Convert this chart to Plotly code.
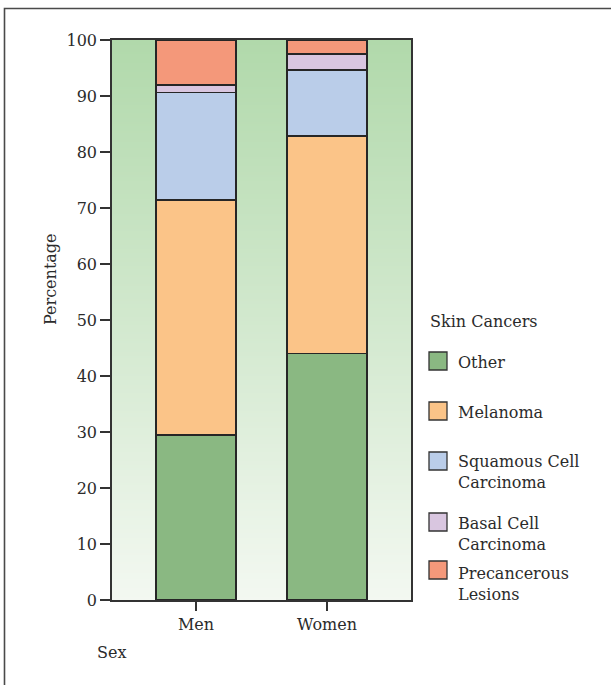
import base64, struct, zlib
import plotly.graph_objects as go

# ---------------- data ----------------
sexes = ["Men", "Women"]
cancer_types = ["Other", "Melanoma", "Squamous Cell<br>Carcinoma",
                "Basal Cell<br>Carcinoma", "Precancerous<br>Lesions"]
other = [29.5, 44.0]
melanoma = [41.9, 38.9]
squamous = [19.2, 11.7]
basal = [1.4, 2.9]
precancerous = [8.0, 2.5]
series_values = [other, melanoma, squamous, basal, precancerous]
y_ticks = list(range(0, 101, 10))

# ---------------- styles ----------------
colors = ["#8ab882", "#fbc488", "#bacde9", "#d9c6e0", "#f4987a"]
FONT = "DejaVu Serif"
TXT = "#2b2b2b"
W, H = 611, 685
L, R, T, B = 112, 200, 40, 85
PW, PH = W - L - R, H - T - B


def px_x(p):
    return (p - L) / PW


def px_y(p):
    return (H - B - p) / PH


def gradient_png(top, bottom, n=256):
    rows = []
    for i in range(n):
        t = i / (n - 1)
        rgb = [round(top[k] + (bottom[k] - top[k]) * t) for k in range(3)]
        rows.append(b"\x00" + bytes(rgb))
    raw = b"".join(rows)

    def chunk(tag, data):
        return (struct.pack(">I", len(data)) + tag + data +
                struct.pack(">I", zlib.crc32(tag + data) & 0xFFFFFFFF))

    png = b"\x89PNG\r\n\x1a\n"
    png += chunk(b"IHDR", struct.pack(">IIBBBBB", 1, n, 8, 2, 0, 0, 0))
    png += chunk(b"IDAT", zlib.compress(raw))
    png += chunk(b"IEND", b"")
    return "data:image/png;base64," + base64.b64encode(png).decode()


fig = go.Figure()
for name, vals, col in zip(cancer_types, series_values, colors):
    fig.add_trace(go.Bar(
        x=sexes, y=vals, name=name, width=0.61,
        marker=dict(color=col, line=dict(color="#262626", width=1.5)),
        showlegend=False,
    ))

# manual legend (title, swatches and labels)
annotations = [
    dict(text="Skin Cancers", x=px_x(428), y=px_y(321), xref="paper", yref="paper",
         xanchor="left", yanchor="middle", showarrow=False,
         font=dict(family=FONT, size=16, color=TXT)),
    dict(text="Sex", x=px_x(95), y=px_y(652), xref="paper", yref="paper",
         xanchor="left", yanchor="middle", showarrow=False,
         font=dict(family=FONT, size=16, color=TXT)),
    dict(text="Percentage", x=px_x(50), y=px_y(279), xref="paper", yref="paper",
         xanchor="center", yanchor="middle", showarrow=False, textangle=-90,
         font=dict(family=FONT, size=16, color=TXT)),
]
shapes = []
box_centers = [361, 411, 461, 522, 570]
text_centers = [362, 412, 472, 534, 584]
for name, col, bc, tc in zip(cancer_types, colors, box_centers, text_centers):
    shapes.append(dict(type="rect", xref="paper", yref="paper",
                       x0=px_x(429), x1=px_x(447), y0=px_y(bc + 9), y1=px_y(bc - 9),
                       fillcolor=col, line=dict(color="#333333", width=1.3)))
    annotations.append(dict(text=name, x=px_x(456), y=px_y(tc), xref="paper", yref="paper",
                            xanchor="left", yanchor="middle", align="left",
                            showarrow=False,
                            font=dict(family=FONT, size=16, color=TXT)))

# outer frame (left and top edges)
shapes.append(dict(type="path", xref="paper", yref="paper",
                   path=f"M {px_x(4.5)},{px_y(690)} L {px_x(4.5)},{px_y(8.5)} L {px_x(615)},{px_y(8.5)}",
                   line=dict(color="#4a4a4a", width=1.6)))

fig.update_layout(
    width=W, height=H,
    margin=dict(l=L, r=R, t=T, b=B),
    barmode="stack",
    paper_bgcolor="white",
    plot_bgcolor="rgba(0,0,0,0)",
    showlegend=False,
    font=dict(family=FONT, size=16, color=TXT),
    images=[dict(source=gradient_png((177, 217, 171), (243, 248, 241)),
                 xref="paper", yref="paper", x=0, y=1, sizex=1, sizey=1,
                 xanchor="left", yanchor="top", sizing="stretch", layer="below")],
    shapes=shapes,
    annotations=annotations,
    xaxis=dict(type="category", range=[-0.641, 1.641], showgrid=False,
               showline=True, linecolor="#333333", linewidth=1.5, mirror=True,
               ticks="outside", ticklen=9, tickwidth=1.5, tickcolor="#333333",
               tickfont=dict(family=FONT, size=16, color=TXT)),
    yaxis=dict(range=[0, 100], tickvals=y_ticks, showgrid=False, zeroline=False,
               showline=True, linecolor="#333333", linewidth=1.5, mirror=True,
               ticks="outside", ticklen=10, tickwidth=1.5, tickcolor="#333333",
               tickfont=dict(family=FONT, size=16, color=TXT)),
)

fig.write_html("out.html",
               config={"displayModeBar": False},
               post_script="document.body.style.margin='0';document.body.style.overflow='hidden';")
